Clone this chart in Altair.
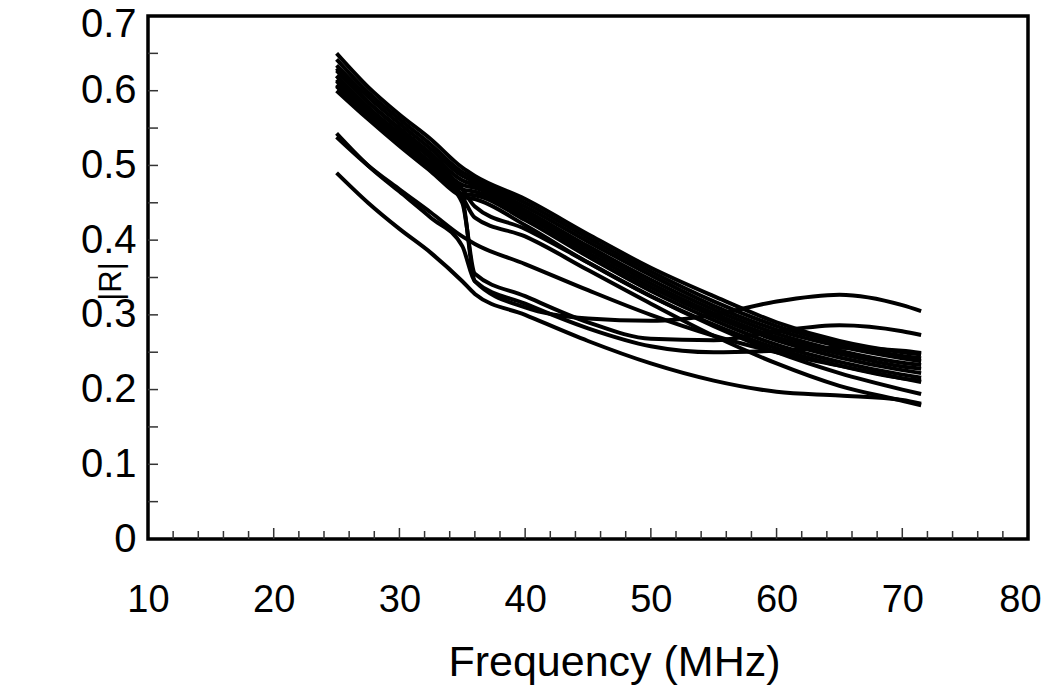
import altair as alt
import pandas as pd

# Frequency points (MHz) at which each |R| curve was read
freq = [25, 27.5, 30, 32.5, 35, 36, 40, 45, 50, 55, 60, 65, 70, 71.5]

# Main bundle of curves
b1 = [0.650, 0.605, 0.568, 0.535, 0.497, 0.486, 0.455, 0.408, 0.363, 0.325, 0.290, 0.265, 0.250, 0.247]
b2 = [0.642, 0.598, 0.562, 0.528, 0.491, 0.482, 0.450, 0.403, 0.358, 0.318, 0.285, 0.262, 0.245, 0.242]
b3 = [0.634, 0.592, 0.556, 0.522, 0.486, 0.478, 0.445, 0.398, 0.353, 0.312, 0.280, 0.258, 0.242, 0.238]
b4 = [0.627, 0.585, 0.550, 0.516, 0.480, 0.474, 0.440, 0.392, 0.347, 0.307, 0.275, 0.252, 0.236, 0.233]
b5 = [0.620, 0.578, 0.543, 0.510, 0.474, 0.470, 0.436, 0.388, 0.342, 0.302, 0.270, 0.248, 0.231, 0.228]
b6 = [0.613, 0.572, 0.537, 0.504, 0.468, 0.465, 0.432, 0.383, 0.337, 0.298, 0.266, 0.243, 0.226, 0.222]
b7 = [0.606, 0.566, 0.531, 0.497, 0.462, 0.460, 0.427, 0.378, 0.332, 0.293, 0.260, 0.237, 0.220, 0.216]
b8 = [0.600, 0.562, 0.526, 0.492, 0.458, 0.455, 0.420, 0.370, 0.325, 0.287, 0.255, 0.232, 0.215, 0.212]
# Curves leaving the bundle smoothly and ending low
s1 = [0.630, 0.585, 0.548, 0.510, 0.468, 0.445, 0.415, 0.370, 0.325, 0.285, 0.250, 0.222, 0.200, 0.194]
s2 = [0.620, 0.578, 0.540, 0.502, 0.458, 0.430, 0.405, 0.360, 0.315, 0.272, 0.235, 0.205, 0.185, 0.179]
# Curves with a sharp drop between 35 and 36 MHz
d1 = [0.615, 0.572, 0.536, 0.500, 0.455, 0.345, 0.310, 0.295, 0.292, 0.300, 0.318, 0.327, 0.313, 0.305]
d2 = [0.608, 0.566, 0.530, 0.494, 0.450, 0.355, 0.325, 0.290, 0.268, 0.266, 0.278, 0.286, 0.278, 0.273]
# Lower starting curves
l1 = [0.490, 0.450, 0.415, 0.383, 0.345, 0.328, 0.300, 0.265, 0.235, 0.212, 0.197, 0.192, 0.186, 0.181]
l2a = [0.543, 0.500, 0.465, 0.430, 0.392, 0.345, 0.315, 0.282, 0.258, 0.250, 0.252, 0.256, 0.252, 0.249]
l2b = [0.538, 0.500, 0.468, 0.437, 0.405, 0.395, 0.368, 0.333, 0.300, 0.272, 0.250, 0.232, 0.215, 0.210]

curves = {"b1": b1, "b2": b2, "b3": b3, "b4": b4, "b5": b5, "b6": b6, "b7": b7,
          "b8": b8, "s1": s1, "s2": s2, "d1": d1, "d2": d2, "l1": l1,
          "l2a": l2a, "l2b": l2b}

x_ticks = [10, 20, 30, 40, 50, 60, 70, 80]
y_ticks = [0, 0.1, 0.2, 0.3, 0.4, 0.5, 0.6, 0.7]
x_minor = [v for v in range(12, 80, 2) if v % 10 != 0]
x_major = [20, 30, 40, 50, 60, 70]
y_minor = [0.05, 0.1, 0.15, 0.2, 0.25, 0.3, 0.35, 0.4, 0.45, 0.5, 0.55, 0.6, 0.65]

rows = []
for name, vals in curves.items():
    for f, v in zip(freq, vals):
        rows.append({"curve": name, "f": f, "r": v})
df = pd.DataFrame(rows)

W, H = 880, 523
FONT = "Liberation Sans"

xs = alt.Scale(domain=[10, 80], nice=False, zero=False)
ys = alt.Scale(domain=[0, 0.7], nice=False, zero=False)

lines = alt.Chart(df).mark_line(color="black", strokeWidth=4, interpolate="monotone").encode(
    x=alt.X("f:Q", scale=xs, axis=alt.Axis(
        values=x_ticks, ticks=False, domain=False, grid=False, labelPadding=42,
        labelFlush=False, labelFontSize=38, labelFont=FONT, labelColor="black", format="d",
        labelOffset={"condition": {"test": "datum.value == 80", "value": -8}, "value": 0},
        title="Frequency (MHz)", titleFontSize=43, titleFont=FONT, titleFontWeight="normal",
        titleColor="black", titleX=466, titleY=136, titleBaseline="alphabetic")),
    y=alt.Y("r:Q", scale=ys, axis=alt.Axis(
        values=y_ticks, ticks=False, domain=False, grid=False, labelPadding=12,
        labelFlush=False, labelFontSize=40, labelFont=FONT, labelColor="black",
        labelOffset={"condition": {"test": "datum.value == 0.7", "value": 8}, "value": 0},
        labelExpr="datum.value == 0 ? '0' : format(datum.value, '.1f')",
        title="|R|", titleFontSize=31, titleFont=FONT, titleFontWeight="normal",
        titleColor="black", titleX=-37, titleY=265, titleBaseline="middle", titleAlign="center")),
    detail="curve:N",
)

xminor_df = pd.DataFrame({"f": x_minor})
xmajor_df = pd.DataFrame({"f": x_major})
yminor_df = pd.DataFrame({"r": y_minor})

xminor = alt.Chart(xminor_df).mark_rule(color="#333333", strokeWidth=1.5).encode(
    x=alt.X("f:Q", scale=xs), y=alt.value(H), y2=alt.value(H - 8))
xmajor = alt.Chart(xmajor_df).mark_rule(color="#333333", strokeWidth=1.5).encode(
    x=alt.X("f:Q", scale=xs), y=alt.value(H), y2=alt.value(H - 11))
yminor = alt.Chart(yminor_df).mark_rule(color="#333333", strokeWidth=1.5).encode(
    y=alt.Y("r:Q", scale=ys), x=alt.value(0), x2=alt.value(10))

chart = alt.layer(xminor, xmajor, yminor, lines).properties(
    width=W, height=H,
    autosize=alt.AutoSizeParams(type="none"),
    padding={"left": 140, "top": 8, "right": 14, "bottom": 146},
).configure(background="white").configure_view(stroke="black", strokeWidth=3.5)

chart.save("out.html", embed_options={"renderer": "svg", "actions": False})
